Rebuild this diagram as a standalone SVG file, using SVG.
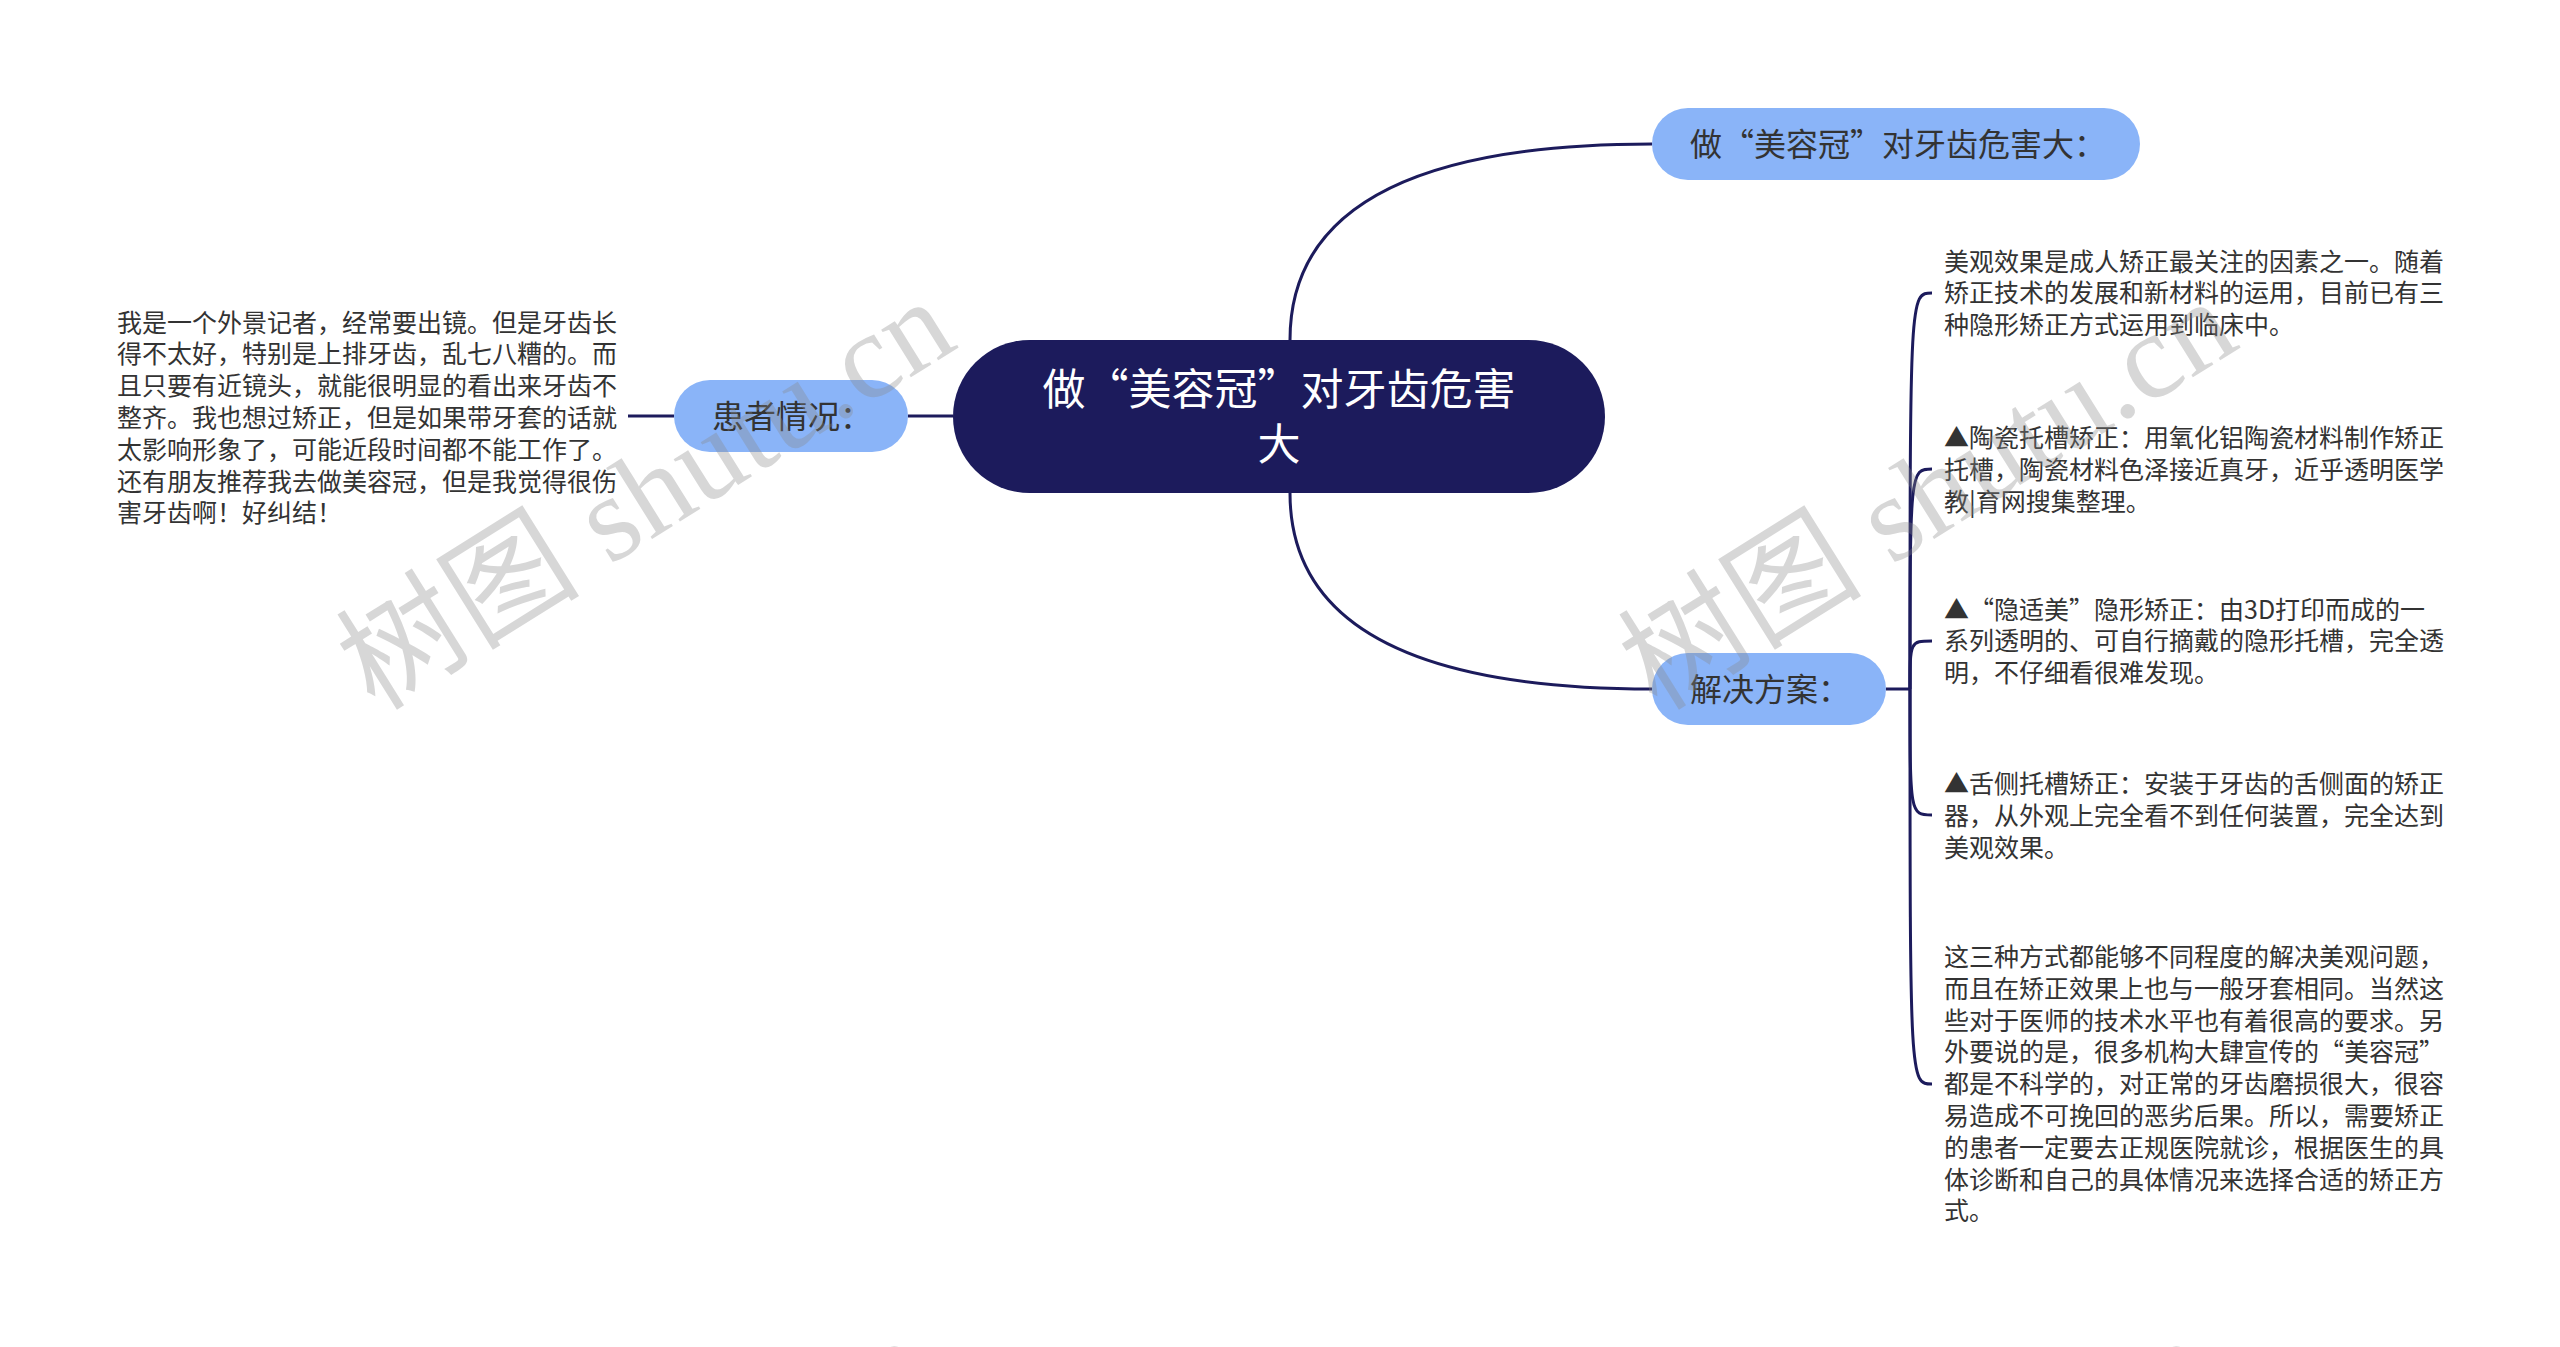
<svg xmlns="http://www.w3.org/2000/svg" width="2560" height="1347" viewBox="0 0 2560 1347">
<style>
.bg{fill:#ffffff}
.root{fill:#1c1b5c}
.sub{fill:#8ab4f8}
.link{fill:none;stroke:#1c1b5c;stroke-width:3}
.rt{font-family:"Noto Sans CJK SC","Liberation Sans",sans-serif;font-size:43px;fill:#ffffff;text-anchor:middle}
.st{font-family:"Noto Sans CJK SC","Liberation Sans",sans-serif;font-size:32px;fill:#333333}
.tx{font-family:"Noto Sans CJK SC","Liberation Sans",sans-serif;font-size:25px;fill:#333333}
.wm{font-family:"Liberation Serif","Noto Sans CJK SC",serif;font-size:122px;fill:#888888;opacity:0.33}
</style>
<rect class="bg" x="0" y="0" width="2560" height="1347"/>
<g id="connectors">
<path class="link" d="M1290 340 Q1290 144 1652 144"/>
<path class="link" d="M1290 493 Q1290 689 1652 689"/>
<path class="link" d="M953 416 L908 416"/>
<path class="link" d="M674 416 L628 416"/>
<path class="link" d="M1886 689 L1910 689"/>
<path class="link" d="M1910 689 C1910 293 1910 293 1932 293"/>
<path class="link" d="M1910 689 C1910 469 1910 469 1932 469"/>
<path class="link" d="M1910 689 C1910 641 1910 641 1932 641"/>
<path class="link" d="M1910 689 C1910 815 1910 815 1932 815"/>
<path class="link" d="M1910 689 C1910 1084 1910 1084 1932 1084"/>
</g>
<g id="node-root">
<rect class="root" x="953" y="340" width="652" height="153" rx="76.5" ry="76.5"/>
<text class="rt" x="1279" y="405">做“美容冠”对牙齿危害</text>
<text class="rt" x="1279" y="460">大</text>
</g>
<g id="node-harm">
<rect class="sub" x="1652" y="108" width="488" height="72" rx="36" ry="36"/>
<text class="st" x="1690" y="156">做“美容冠”对牙齿危害大：</text>
</g>
<g id="node-patient">
<rect class="sub" x="674" y="380" width="234" height="72" rx="36" ry="36"/>
<text class="st" x="712" y="428">患者情况：</text>
</g>
<g id="node-solution">
<rect class="sub" x="1652" y="653" width="234" height="72" rx="36" ry="36"/>
<text class="st" x="1690" y="701">解决方案：</text>
</g>
<g id="node-patient-text">
<text class="tx" x="117" y="331.5">
<tspan x="117">我是一个外景记者，经常要出镜。但是牙齿长</tspan>
<tspan x="117" dy="31.8">得不太好，特别是上排牙齿，乱七八糟的。而</tspan>
<tspan x="117" dy="31.8">且只要有近镜头，就能很明显的看出来牙齿不</tspan>
<tspan x="117" dy="31.8">整齐。我也想过矫正，但是如果带牙套的话就</tspan>
<tspan x="117" dy="31.8">太影响形象了，可能近段时间都不能工作了。</tspan>
<tspan x="117" dy="31.8">还有朋友推荐我去做美容冠，但是我觉得很伤</tspan>
<tspan x="117" dy="31.8">害牙齿啊！好纠结！</tspan>
</text>
</g>
<g id="node-s1">
<text class="tx" x="1944" y="270.5">
<tspan x="1944">美观效果是成人矫正最关注的因素之一。随着</tspan>
<tspan x="1944" dy="31.8">矫正技术的发展和新材料的运用，目前已有三</tspan>
<tspan x="1944" dy="31.8">种隐形矫正方式运用到临床中。</tspan>
</text>
</g>
<g id="node-s2">
<text class="tx" x="1944" y="447">
<tspan x="1944">▲陶瓷托槽矫正：用氧化铝陶瓷材料制作矫正</tspan>
<tspan x="1944" dy="31.8">托槽，陶瓷材料色泽接近真牙，近乎透明医学</tspan>
<tspan x="1944" dy="31.8">教|育网搜集整理。</tspan>
</text>
</g>
<g id="node-s3">
<text class="tx" x="1944" y="618.5">
<tspan x="1944">▲“隐适美”隐形矫正：由3D打印而成的一</tspan>
<tspan x="1944" dy="31.8">系列透明的、可自行摘戴的隐形托槽，完全透</tspan>
<tspan x="1944" dy="31.8">明，不仔细看很难发现。</tspan>
</text>
</g>
<g id="node-s4">
<text class="tx" x="1944" y="793">
<tspan x="1944">▲舌侧托槽矫正：安装于牙齿的舌侧面的矫正</tspan>
<tspan x="1944" dy="31.8">器，从外观上完全看不到任何装置，完全达到</tspan>
<tspan x="1944" dy="31.8">美观效果。</tspan>
</text>
</g>
<g id="node-s5">
<text class="tx" x="1944" y="966">
<tspan x="1944">这三种方式都能够不同程度的解决美观问题，</tspan>
<tspan x="1944" dy="31.8">而且在矫正效果上也与一般牙套相同。当然这</tspan>
<tspan x="1944" dy="31.8">些对于医师的技术水平也有着很高的要求。另</tspan>
<tspan x="1944" dy="31.8">外要说的是，很多机构大肆宣传的“美容冠”</tspan>
<tspan x="1944" dy="31.8">都是不科学的，对正常的牙齿磨损很大，很容</tspan>
<tspan x="1944" dy="31.8">易造成不可挽回的恶劣后果。所以，需要矫正</tspan>
<tspan x="1944" dy="31.8">的患者一定要去正规医院就诊，根据医生的具</tspan>
<tspan x="1944" dy="31.8">体诊断和自己的具体情况来选择合适的矫正方</tspan>
<tspan x="1944" dy="31.8">式。</tspan>
</text>
</g>
<g id="watermarks">
<text class="wm" transform="translate(375,712) rotate(-32)" textLength="690" lengthAdjust="spacing">树图 shutu.cn</text>
<text class="wm" transform="translate(1657,712) rotate(-32)" textLength="690" lengthAdjust="spacing">树图 shutu.cn</text>
<text class="wm" transform="translate(351,1751) rotate(-32)" textLength="690" lengthAdjust="spacing">树图 shutu.cn</text>
<text class="wm" transform="translate(1633,1751) rotate(-32)" textLength="690" lengthAdjust="spacing">树图 shutu.cn</text>
</g>
</svg>
